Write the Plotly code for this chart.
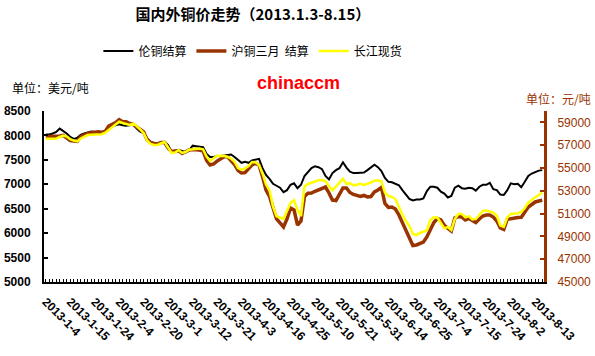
import plotly.graph_objects as go

# Trading dates (categories)
dates = [
    "2013-1-4", "2013-1-7", "2013-1-8", "2013-1-9", "2013-1-10", "2013-1-11", "2013-1-14", "2013-1-15",
    "2013-1-16", "2013-1-17", "2013-1-18", "2013-1-21", "2013-1-22", "2013-1-23", "2013-1-24", "2013-1-25",
    "2013-1-28", "2013-1-29", "2013-1-30", "2013-1-31",
    "2013-2-1", "2013-2-4", "2013-2-5", "2013-2-6", "2013-2-7", "2013-2-8", "2013-2-18", "2013-2-19",
    "2013-2-20", "2013-2-21", "2013-2-22", "2013-2-25", "2013-2-26", "2013-2-27", "2013-2-28",
    "2013-3-1", "2013-3-4", "2013-3-5", "2013-3-6", "2013-3-7", "2013-3-8", "2013-3-11", "2013-3-12",
    "2013-3-13", "2013-3-14", "2013-3-15", "2013-3-18", "2013-3-19", "2013-3-20", "2013-3-21", "2013-3-22",
    "2013-3-25", "2013-3-26", "2013-3-27", "2013-3-28",
    "2013-4-2", "2013-4-3", "2013-4-8", "2013-4-9", "2013-4-10", "2013-4-11", "2013-4-12", "2013-4-15",
    "2013-4-16", "2013-4-17", "2013-4-18", "2013-4-19", "2013-4-22", "2013-4-23", "2013-4-24", "2013-4-25",
    "2013-4-26",
    "2013-5-2", "2013-5-3", "2013-5-7", "2013-5-8", "2013-5-9", "2013-5-10", "2013-5-13", "2013-5-14",
    "2013-5-15", "2013-5-16", "2013-5-17", "2013-5-20", "2013-5-21", "2013-5-22", "2013-5-23", "2013-5-24",
    "2013-5-28", "2013-5-29", "2013-5-30", "2013-5-31",
    "2013-6-3", "2013-6-4", "2013-6-5", "2013-6-6", "2013-6-7", "2013-6-13", "2013-6-14", "2013-6-17",
    "2013-6-18", "2013-6-19", "2013-6-20", "2013-6-21", "2013-6-24", "2013-6-25", "2013-6-26", "2013-6-27",
    "2013-6-28",
    "2013-7-1", "2013-7-2", "2013-7-3", "2013-7-4", "2013-7-5", "2013-7-8", "2013-7-9", "2013-7-10",
    "2013-7-11", "2013-7-12", "2013-7-15", "2013-7-16", "2013-7-17", "2013-7-18", "2013-7-19", "2013-7-22",
    "2013-7-23", "2013-7-24", "2013-7-25", "2013-7-26", "2013-7-29", "2013-7-30", "2013-7-31",
    "2013-8-1", "2013-8-2", "2013-8-5", "2013-8-6", "2013-8-7", "2013-8-8", "2013-8-9", "2013-8-12",
    "2013-8-13", "2013-8-14", "2013-8-15",
]

# Labelled ticks on the category axis
tick_labels = [
    "2013-1-4", "2013-1-15", "2013-1-24", "2013-2-4", "2013-2-20", "2013-3-1", "2013-3-12",
    "2013-3-21", "2013-4-3", "2013-4-16", "2013-4-25", "2013-5-10", "2013-5-21", "2013-5-31",
    "2013-6-14", "2013-6-25", "2013-7-4", "2013-7-15", "2013-7-24", "2013-8-2", "2013-8-13",
]

# LME settlement (USD/t, left axis)
lme = [8020, 8020, 8040, 8070, 8140, 8090, 8040, 7970, 7930, 7950,
       8010, 8040, 8060, 8080, 8070, 8050, 8030, 8070, 8130, 8190,
       8210, 8230, 8210, 8200, 8210, 8220, 8140, 8080, 8050, 7940,
       7860, 7840, 7840, 7860, 7870, 7800, 7660, 7680, 7700, 7680,
       7650, 7690, 7790, 7780, 7770, 7760, 7620, 7560, 7560, 7580,
       7580, 7590, 7610, 7610, 7560, 7500, 7440, 7460, 7440, 7490,
       7510, 7520, 7330, 7190, 7110, 7010, 6970, 6930, 6840, 6880,
       6990, 7020, 6920, 6990, 7170, 7260, 7330, 7370, 7350, 7310,
       7170, 7100, 7230, 7290, 7330, 7450, 7340, 7260, 7230, 7230,
       7230, 7240, 7290, 7340, 7400, 7350, 7270, 7130, 7050, 7040,
       7010, 6980, 6880, 6780, 6700, 6670, 6690, 6690, 6710, 6860,
       6950, 6950, 6930, 6850, 6810, 6730, 6760, 6930, 6970, 6920,
       6910, 6930, 6920, 6870, 6950, 6990, 6990, 7030, 6900, 6880,
       6790, 6780, 6880, 7020, 7000, 7010, 6940, 7050, 7170, 7220,
       7250, 7280, 7290]

# SHFE 3-month settlement (CNY/t, right axis)
shfe = [57750, 57750, 57750, 57750, 57810, 57870, 57680, 57410, 57370, 57330,
        57760, 57940, 58040, 58090, 58130, 58180, 58140, 58200, 58680, 58820,
        58990, 59250, 59060, 59060, 58900, 58830, 58600, 58420, 58160, 57460,
        57240, 57150, 57110, 57240, 57240, 56750, 56450, 56490, 56520, 56270,
        56450, 56580, 56620, 56620, 56580, 56490, 55660, 55260, 55350, 55610,
        55830, 55990, 55990, 55680, 55310, 54780, 54560, 54590, 54960, 55280,
        55410, 55260, 54240, 53070, 52500, 51450, 50530, 50180, 49830, 50530,
        51490, 51320, 50000, 50350, 52500, 52780, 52810, 52960, 53110, 53200,
        53330, 52810, 52190, 52150, 52720, 53250, 53250, 52850, 52680, 52590,
        52500, 52590, 52460, 52500, 52900, 53070, 53290, 51900, 51540, 51580,
        51400, 50880, 50180, 49470, 48770, 48200, 48250, 48420, 48510, 48950,
        49610, 50220, 50570, 50440, 49960, 49740, 49470, 50610, 50750, 50700,
        50440, 50570, 50350, 50220, 50530, 50790, 50880, 50880, 50700, 50350,
        49740, 49610, 50500, 50570, 50610, 50660, 50680, 51140, 51580, 51800,
        52020, 52110, 52170]

# Changjiang spot (CNY/t, right axis)
changjiang = [57570, 57570, 57570, 57570, 57720, 57850, 57760, 57540, 57410, 57330,
              57590, 57760, 57890, 57910, 57920, 57940, 57960, 58100, 58330, 58640,
              58860, 59060, 58950, 58860, 58770, 58890, 58680, 58380, 58070, 57410,
              57110, 57020, 57020, 57170, 57280, 56800, 56330, 56360, 56580, 56320,
              56400, 56600, 56620, 56670, 56710, 56640, 56010, 55610, 55830, 56100,
              56050, 56070, 55970, 55830, 55530, 55000, 54830, 54960, 55180, 55530,
              55500, 55260, 54520, 53550, 53030, 51620, 50770, 50660, 50530, 51230,
              51930, 52190, 51320, 50770, 53380, 53600, 53730, 53820, 53930, 53950,
              53860, 53420, 53040, 53380, 53680, 54050, 53600, 53680, 53470, 53550,
              53610, 53510, 53600, 53730, 53890, 53920, 53820, 52850, 52540, 52460,
              52280, 51580, 50920, 50350, 49910, 49210, 49120, 49300, 49390, 49540,
              50440, 50680, 50660, 50180, 49710, 49830, 49560, 50530, 50970, 50970,
              50680, 50760, 50480, 50530, 50920, 51230, 51270, 51180, 51090, 50830,
              49960, 49830, 50660, 50970, 50970, 51030, 51140, 51490, 51970, 52240,
              52430, 52630, 52850]

left_ticks = [5000, 5500, 6000, 6500, 7000, 7500, 8000, 8500]
right_ticks = [45000, 47000, 49000, 51000, 53000, 55000, 57000, 59000]

BROWN = "#993300"
CJK = "Noto Sans CJK SC"
LAT = "Arial, Liberation Sans, sans-serif"

fig = go.Figure()
fig.add_trace(go.Scatter(x=dates, y=shfe, name="沪铜三月\u00a0\u00a0结算", mode="lines",
                         line=dict(color=BROWN, width=3.5), yaxis="y2", legendrank=2))
fig.add_trace(go.Scatter(x=dates, y=changjiang, name="长江现货", mode="lines",
                         line=dict(color="#FFFF00", width=2.5), yaxis="y2", legendrank=3))
fig.add_trace(go.Scatter(x=dates, y=lme, name="伦铜结算", mode="lines",
                         line=dict(color="black", width=2), legendrank=1))

fig.update_layout(
    width=595, height=356,
    margin=dict(l=44, r=51, t=111, b=74),
    paper_bgcolor="white", plot_bgcolor="white",
    title=dict(text="国内外铜价走势（2013.1.3-8.15）",
               font=dict(family=CJK, size=15, color="black", weight="bold"),
               xref="container", x=0.425, xanchor="center",
               yref="container", y=1 - 15 / 356, yanchor="middle"),
    legend=dict(orientation="h", xref="container", x=0.425, xanchor="center",
                yref="container", y=1 - 51 / 356, yanchor="middle",
                font=dict(family=CJK, size=12, color="black"),
                bgcolor="rgba(0,0,0,0)", itemwidth=30, traceorder="normal"),
    xaxis=dict(type="category", categoryorder="array", categoryarray=dates,
               range=[-0.5, len(dates) - 0.5], automargin=False,
               tickmode="array", tickvals=dates,
               ticktext=[d if d in tick_labels else "" for d in dates],
               tickangle=45, ticks="inside", ticklen=3, tickwidth=1, tickcolor="black",
               ticklabelstandoff=6,
               showline=True, linecolor="black", linewidth=2, showgrid=False,
               tickfont=dict(family=LAT, size=12, color="black", weight="bold")),
    yaxis=dict(range=[5000, 8500], tickmode="array", tickvals=left_ticks,
               ticktext=[str(v) for v in left_ticks], automargin=False,
               ticks="inside", ticklen=4, tickwidth=2, tickcolor="black",
               showline=True, linecolor="black", linewidth=2, showgrid=False, zeroline=False,
               ticklabelstandoff=9,
               tickfont=dict(family=LAT, size=12, color="black", weight="bold")),
    yaxis2=dict(overlaying="y", side="right", range=[45000, 60000], tickmode="array",
                tickvals=right_ticks, ticktext=[str(v) for v in right_ticks], automargin=False,
                ticks="inside", ticklen=4, tickwidth=2, tickcolor=BROWN,
                showline=True, linecolor=BROWN, linewidth=3, showgrid=False, zeroline=False,
                ticklabelstandoff=8,
                tickfont=dict(family=LAT, size=12, color=BROWN)),
    annotations=[
        dict(text="单位：美元/吨", xref="paper", yref="paper", x=(10 - 44) / 500, y=(281.5 - 88) / 170,
             xanchor="left", yanchor="middle", showarrow=False,
             font=dict(family=CJK, size=12, color="black")),
        dict(text="chinaccm", xref="paper", yref="paper", x=(255 - 44) / 500, y=(281.5 - 84) / 170,
             xanchor="left", yanchor="middle", showarrow=False,
             font=dict(family=LAT, size=18, color="#FF0000", weight="bold")),
        dict(text="单位：元/吨", xref="paper", yref="paper", x=(593 - 44) / 500, y=(281.5 - 99) / 170,
             xanchor="right", yanchor="middle", showarrow=False,
             font=dict(family=CJK, size=12, color=BROWN)),
    ],
    showlegend=True,
)

fig.write_html(
    "out.html",
    config={"displayModeBar": False},
    post_script="document.body.style.margin='0';document.body.style.padding='0';"
                "document.body.style.overflow='hidden';",
)
